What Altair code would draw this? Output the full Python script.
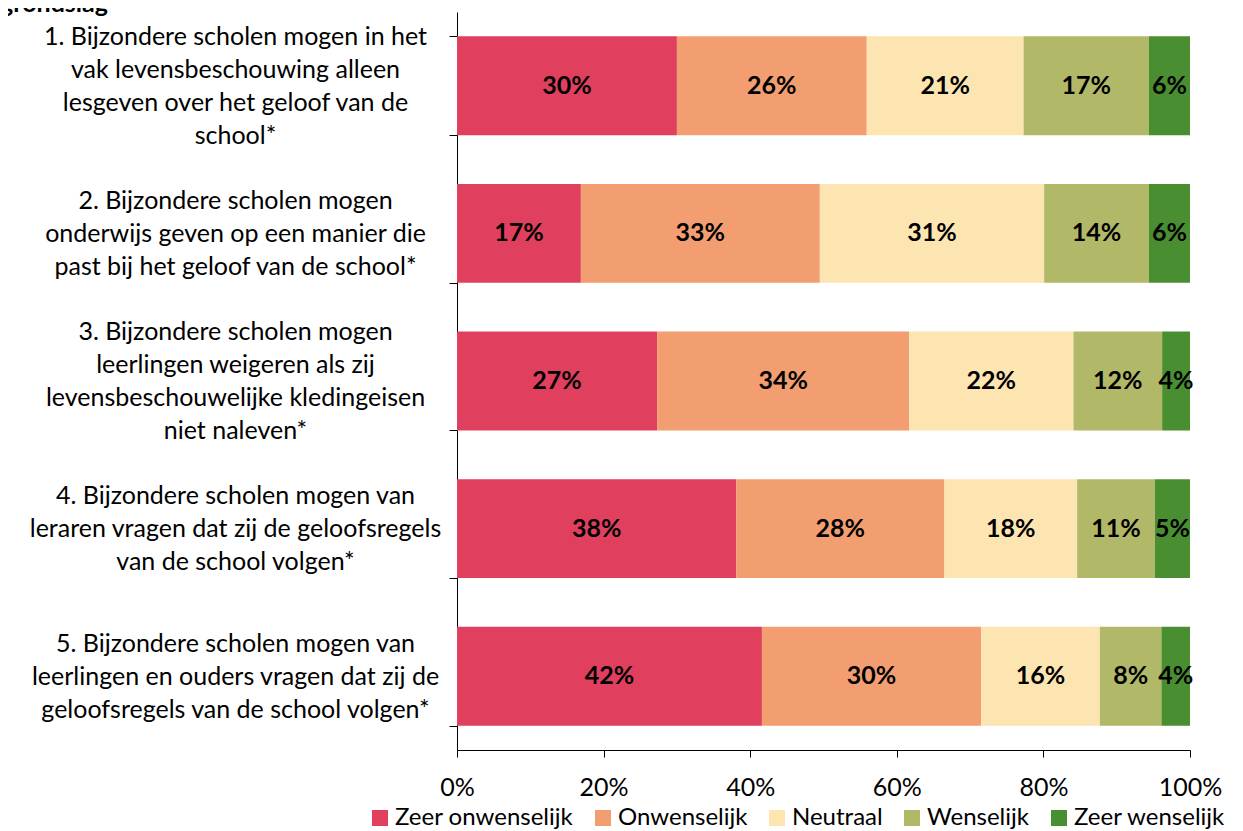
import altair as alt
import pandas as pd

title_text = ["grondslag"]
questions = [
    "1. Bijzondere scholen mogen in het|vak levensbeschouwing alleen|lesgeven over het geloof van de|school*",
    "2. Bijzondere scholen mogen|onderwijs geven op een manier die|past bij het geloof van de school*",
    "3. Bijzondere scholen mogen|leerlingen weigeren als zij|levensbeschouwelijke kledingeisen|niet naleven*",
    "4. Bijzondere scholen mogen van|leraren vragen dat zij de geloofsregels|van de school volgen*",
    "5. Bijzondere scholen mogen van|leerlingen en ouders vragen dat zij de|geloofsregels van de school volgen*",
]
categories = ["Zeer onwenselijk", "Onwenselijk", "Neutraal", "Wenselijk", "Zeer wenselijk"]
zeer_onwenselijk = [30.0, 16.9, 27.3, 38.1, 41.6]
onwenselijk = [25.9, 32.6, 34.4, 28.4, 29.9]
neutraal = [21.4, 30.6, 22.4, 18.1, 16.2]
wenselijk = [17.1, 14.3, 12.1, 10.6, 8.4]
zeer_wenselijk = [5.6, 5.6, 3.8, 4.8, 3.9]
colors = ["#E0405E", "#F39E71", "#FDE5B2", "#B1B968", "#4A8E32"]
x_ticks = [0, 20, 40, 60, 80, 100]

series = [zeer_onwenselijk, onwenselijk, neutraal, wenselijk, zeer_wenselijk]
rows = []
for qi, q in enumerate(questions):
    for ci, cat in enumerate(categories):
        rows.append({"q": q, "cat": cat, "order": ci, "value": series[ci][qi]})
df = pd.DataFrame(rows)

FONT = "Lato"
LINE_H = 33

base = alt.Chart(df).transform_stack(
    stack="value", groupby=["q"], as_=["x0", "x1"],
    sort=[alt.SortField("order", "ascending")]
).transform_calculate(
    mid="(datum.x0 + datum.x1) / 2",
    label="format(datum.value, '.0f') + '%'"
)

y_enc = alt.Y(
    "q:N", sort=questions,
    scale=alt.Scale(paddingInner=0.33, paddingOuter=0.165),
    axis=alt.Axis(
        title=None, labelExpr="split(datum.label, '|')", labelAlign="center",
        labelBaseline="middle", labelPadding=214, labelFontSize=25,
        labelLineHeight=LINE_H, labelFont=FONT, labelColor="black", labelLimit=0,
        labelOffset={
            "condition": {"test": "length(split(datum.label, '|')) == 4", "value": -1.5 * LINE_H},
            "value": -1.0 * LINE_H,
        },
        tickSize=8, tickBand="extent", domainColor="black", tickColor="black",
    ),
)

bars = base.mark_bar().encode(
    x=alt.X(
        "x0:Q", scale=alt.Scale(domain=[0, 100]),
        axis=alt.Axis(
            title=None, values=x_ticks, labelExpr="datum.value + '%'",
            grid=False, tickSize=7, labelPadding=18, labelFontSize=25,
            labelFlush=False, labelFont=FONT, labelColor="black",
            domainColor="black", tickColor="black",
        ),
    ),
    x2="x1:Q",
    y=y_enc,
    color=alt.Color(
        "cat:N", scale=alt.Scale(domain=categories, range=colors),
        legend=alt.Legend(
            orient="none", legendX=-89, legendY=794, direction="horizontal",
            title=None, symbolType="square", symbolSize=256, labelFontSize=24,
            labelFont=FONT, labelColor="black", labelLimit=0, columnPadding=17,
            labelOffset=3, symbolStrokeWidth=0,
        ),
    ),
    order=alt.Order("order:Q"),
)

texts = base.mark_text(fontWeight="bold", fontSize=25, font=FONT, color="black").encode(
    x="mid:Q",
    y=alt.Y("q:N", sort=questions),
    text="label:N",
)

title_mark = alt.Chart(pd.DataFrame({"t": title_text})).mark_text(
    align="left", baseline="alphabetic", fontSize=25, fontWeight="bold",
    font=FONT, color="black",
).encode(text="t:N", x=alt.value(-457), y=alt.value(0))

chart = alt.layer(bars, texts, title_mark).properties(
    width=733, height=738,
    autosize=alt.AutoSizeParams(type="none"),
    padding={"left": 449, "top": 4, "right": 45, "bottom": 81},
).configure_view(stroke=None)

chart.save("out.html", embed_options={"renderer": "svg", "actions": False})
